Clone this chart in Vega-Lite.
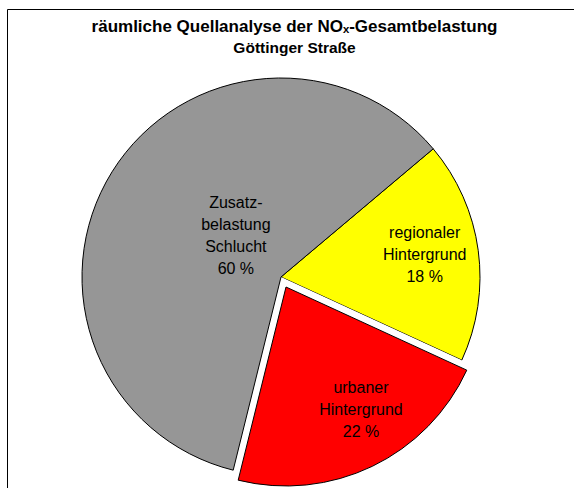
{
  "$schema": "https://vega.github.io/schema/vega-lite/v6.json",
  "width": 568,
  "height": 480,
  "autosize": {"type": "none"},
  "padding": {"left": 7.5, "top": 9.5, "right": -1.5, "bottom": -2},
  "background": "white",
  "config": {"view": {"stroke": null}, "font": "Liberation Sans"},
  "title": {
    "text": "räumliche Quellanalyse der NOₓ-Gesamtbelastung",
    "subtitle": "Göttinger Straße",
    "font": "Liberation Sans",
    "fontSize": 17,
    "fontWeight": "bold",
    "color": "black",
    "subtitleFont": "Liberation Sans",
    "subtitleFontSize": 15.5,
    "subtitleFontWeight": "bold",
    "subtitleColor": "black",
    "subtitlePadding": 5,
    "anchor": "middle",
    "dx": 3,
    "baseline": "top",
    "offset": -48
  },
  "data": {
    "values": [
      {"quelle": "regionaler Hintergrund", "anteil": 18, "ord": 1, "label": "regionaler\nHintergrund\n18 %"},
      {"quelle": "urbaner Hintergrund", "anteil": 22, "ord": 2, "label": "urbaner\nHintergrund\n22 %"},
      {"quelle": "Zusatzbelastung Schlucht", "anteil": 60, "ord": 3, "label": "Zusatz-\nbelastung\nSchlucht\n60 %"}
    ]
  },
  "layer": [
    {
      "data": {"values": [{"rahmen": 1}]},
      "mark": {"type": "rect", "fill": "white", "stroke": "black", "strokeWidth": 1},
      "encoding": {}
    },
    {
      "mark": {"type": "arc", "radius": 199, "stroke": "black", "strokeWidth": 1, "xOffset": -10.5, "yOffset": 27.5},
      "encoding": {
        "theta": {"field": "anteil", "type": "quantitative", "stack": true, "scale": {"range": [0.8709, 7.1541]}},
        "order": {"field": "ord", "type": "quantitative", "sort": "ascending"},
        "fill": {
          "condition": {"test": "datum.ord === 2", "value": "white"},
          "field": "quelle",
          "type": "nominal",
          "scale": {"domain": ["regionaler Hintergrund", "urbaner Hintergrund", "Zusatzbelastung Schlucht"], "range": ["#FFFF00", "#FF0000", "#969696"]},
          "legend": null
        },
        "strokeOpacity": {"condition": {"test": "datum.ord === 2", "value": 0}, "value": 1}
      }
    },
    {
      "mark": {"type": "arc", "radius": 199, "stroke": "black", "strokeWidth": 1, "xOffset": -5.5, "yOffset": 37.5},
      "encoding": {
        "theta": {"field": "anteil", "type": "quantitative", "stack": true},
        "order": {"field": "ord", "type": "quantitative", "sort": "ascending"},
        "fill": {"field": "quelle", "type": "nominal", "legend": null},
        "opacity": {"condition": {"test": "datum.ord === 2", "value": 1}, "value": 0}
      }
    },
    {
      "mark": {"type": "text", "radius": 62, "dx": -3, "dy": -13.5, "lineBreak": "\n", "fontSize": 16, "lineHeight": 22, "font": "Liberation Sans", "fill": "black"},
      "encoding": {
        "theta": {"field": "anteil", "type": "quantitative", "stack": true},
        "order": {"field": "ord", "type": "quantitative", "sort": "ascending"},
        "text": {"field": "label", "type": "nominal"},
        "opacity": {"condition": {"test": "datum.ord === 3", "value": 1}, "value": 0}
      }
    },
    {
      "mark": {"type": "text", "radius": 145, "dx": -10.5, "dy": 3, "lineBreak": "\n", "fontSize": 16, "lineHeight": 22, "font": "Liberation Sans", "fill": "black"},
      "encoding": {
        "theta": {"field": "anteil", "type": "quantitative", "stack": true},
        "order": {"field": "ord", "type": "quantitative", "sort": "ascending"},
        "text": {"field": "label", "type": "nominal"},
        "opacity": {"condition": {"test": "datum.ord === 1", "value": 1}, "value": 0}
      }
    },
    {
      "mark": {"type": "text", "radius": 140, "dx": 8.75, "dy": 12.5, "lineBreak": "\n", "fontSize": 16, "lineHeight": 22, "font": "Liberation Sans", "fill": "black"},
      "encoding": {
        "theta": {"field": "anteil", "type": "quantitative", "stack": true},
        "order": {"field": "ord", "type": "quantitative", "sort": "ascending"},
        "text": {"field": "label", "type": "nominal"},
        "opacity": {"condition": {"test": "datum.ord === 2", "value": 1}, "value": 0}
      }
    }
  ]
}
